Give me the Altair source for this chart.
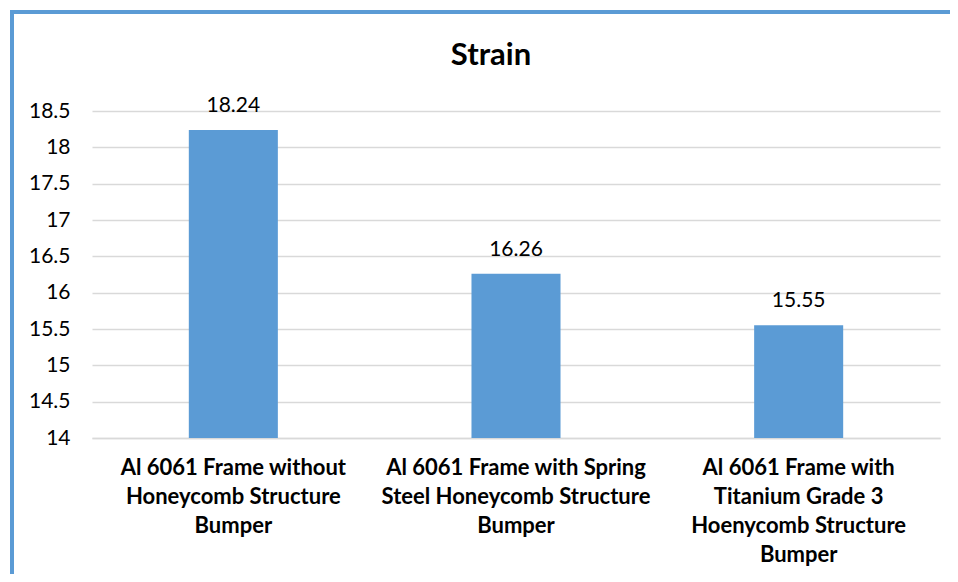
import altair as alt
import pandas as pd

categories = [
    "Al 6061 Frame without|Honeycomb Structure|Bumper",
    "Al 6061 Frame with Spring|Steel Honeycomb Structure|Bumper",
    "Al 6061 Frame with|Titanium Grade 3|Hoenycomb Structure|Bumper",
]
values = [18.24, 16.26, 15.55]
y_ticks = [14.0, 14.5, 15.0, 15.5, 16.0, 16.5, 17.0, 17.5, 18.0, 18.5]

df = pd.DataFrame({"cat": categories, "val": values})

FONT = "Lato"
BLUE = "#5b9bd5"

x_enc = alt.X(
    "cat:N",
    sort=categories,
    title=None,
    scale=alt.Scale(paddingInner=0.685, paddingOuter=0.3425),
    axis=alt.Axis(
        labelExpr="split(datum.label, '|')",
        labelAngle=0,
        labelFont=FONT,
        labelFontSize=22,
        labelFontWeight="bold",
        labelColor="#000000",
        labelLineHeight=29,
        labelPadding=19,
        labelLimit=400,
        labelOverlap=False,
        ticks=False,
        domainColor="#d9d9d9",
        domainWidth=1.5,
        grid=False,
    ),
)
y_enc = alt.Y(
    "val:Q",
    title=None,
    scale=alt.Scale(domain=[14, 18.5], nice=False, zero=False),
    axis=alt.Axis(
        values=y_ticks,
        format=".1~f",
        labelFont=FONT,
        labelFontSize=21,
        labelColor="#000000",
        labelPadding=22,
        labelOverlap=False,
        ticks=False,
        domain=False,
        grid=True,
        gridColor="#d9d9d9",
        gridWidth=1.5,
    ),
)

base = alt.Chart(df).encode(x=x_enc, y=y_enc)
bars = base.mark_bar(color=BLUE).encode(y2=alt.datum(14))
labels = base.mark_text(
    font=FONT, fontSize=21, color="#000000", baseline="bottom", dy=-14
).encode(text=alt.Text("val:Q", format=".2f"))

border_left = alt.Chart(df).mark_rule(color=BLUE, strokeWidth=4).encode(
    x=alt.value(-80), y=alt.value(-99), y2=alt.value(480)
)
border_top = alt.Chart(df).mark_rule(color=BLUE, strokeWidth=4).encode(
    x=alt.value(-82), x2=alt.value(870), y=alt.value(-99)
)

chart = (
    alt.layer(bars, labels, border_left, border_top)
    .properties(
        width=848,
        height=327,
        background="white",
        title=alt.TitleParams(
            "Strain", font=FONT, fontSize=31, fontWeight="bold", color="#000000",
            anchor="middle", frame="group", dx=-25, offset=-62,
        ),
        autosize=alt.AutoSizeParams(type="none"),
        padding={"left": 84, "top": 103, "right": 10, "bottom": 136},
    )
    .configure_view(strokeWidth=0, stroke=None)
)

chart.save("out.html", embed_options={"renderer": "svg", "actions": False})
